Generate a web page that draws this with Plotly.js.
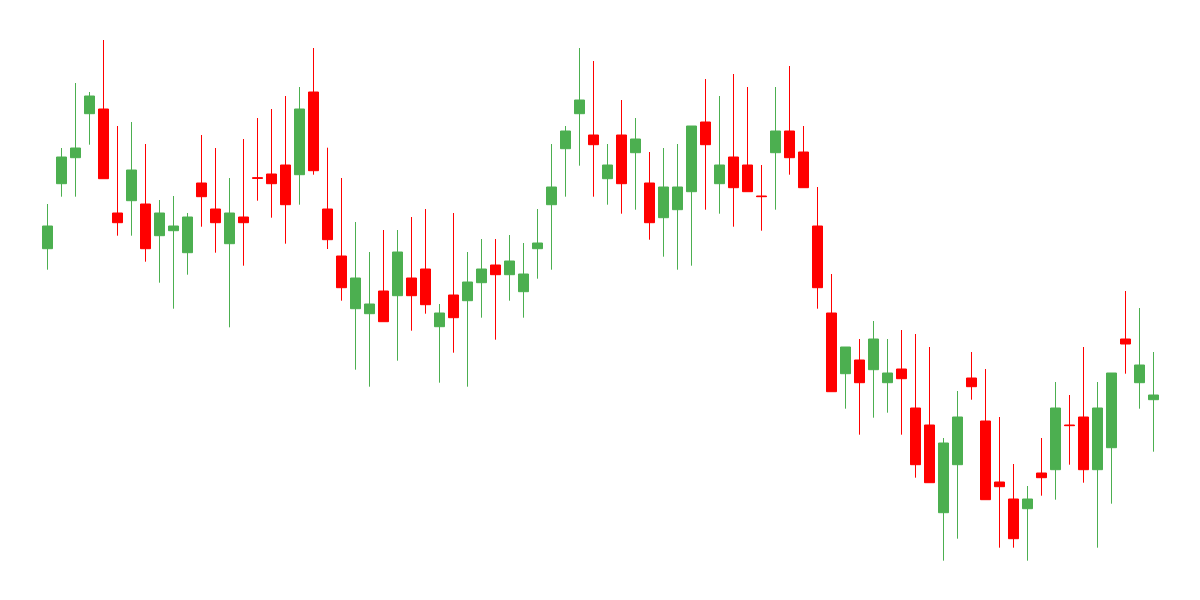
<!DOCTYPE html>
<html>
<head>
<meta charset="utf-8">
<script src="https://cdn.plot.ly/plotly-3.0.1.min.js"></script>
<style>html,body{margin:0;padding:0;background:#fff;}#chart{width:1200px;height:600px;}</style>
</head>
<body>
<div id="chart"></div>
<script>
const periods = Array.from({length: 80}, (_, i) => i);
const open  = [351.3,416.3,442.3,486.3,491,387,399.3,396,364.3,369.3,347.3,417,391,356.3,383,422.3,426,435,425.3,508,
               391,344,291.3,286.3,309,304.3,322,331,273.3,305,299.3,317.3,335,325.3,308.3,351.3,395.3,451.3,486.3,465,
               421.3,465,447.3,417,382.3,390.3,408.3,478,416.3,443,435,404,447.3,469,448,374,287,226.3,240,230.3,
               217.3,231,192,175,87.3,135.3,222,179,118,101,91.3,127,130.3,175,183,130.3,152.3,261,217.3,200.3];
const high  = [396,452,517,508,560,474,478,456,400,404,387,465,452,422,461,482,491,504,513,552,
               452.3,422,378,348,370,370,383,391,296,387,348,361,361,365,357,391,456,474,552,539,
               456,500,482,448,452,456,474,521,504,526,513,435,513,534,474,413,326,253,261,279,
               261,270,266,253,162,209,248,231,183,136,114,162,218,205,253,218,227,309,292,248];
const low   = [330.3,403.3,403.3,455.3,421.3,364.3,364.3,338.3,317.3,291.3,325.3,373.3,347.3,272.7,334.3,399.3,382.3,356.3,395.3,425.3,
               351,299.3,230.3,213.3,278.3,239.3,269.3,286.3,217.3,247.3,213.3,282.3,260.3,299.3,282.3,321.3,330.3,403.3,434.3,403.3,
               395.3,386.3,390.3,360.3,343.3,330.3,334.3,390.3,386.3,373.3,408.3,369.3,390.3,425.3,412.3,291.3,208.3,191.3,165.3,182.3,
               187.3,165.3,122.3,117.3,39.3,61.3,200.3,100.3,52.3,52.3,39.3,104.3,100.3,135.3,117.3,52.3,96.3,226.3,191.3,148.3];
const close = [374,443,452,504,421.3,377.3,430,351.3,387,374,383,403.3,377.3,387,377.3,421.7,416.3,395.3,491,429.3,
               360.3,312.3,322,296,278.3,348,304.3,295.3,287,282.3,318,331,325.3,339,326,357,413,469,500,455.3,
               435,416.3,461,377.3,413,413,474,455.3,435,412.3,408.3,403.4,469,442.3,412.3,312.3,208.3,253,217.3,261,
               227,221.3,135.3,117.3,157,183,213.3,100.3,113.3,61.3,101,122.3,192,174.4,130.3,192,227,256,235,205];

const UP = '#4CAF50', DOWN = '#FF0000';
const trace = {
  type: 'candlestick',
  x: periods, open: open, high: high, low: low, close: close,
  increasing: {line: {color: UP, width: 1}, fillcolor: UP},
  decreasing: {line: {color: DOWN, width: 1}, fillcolor: DOWN},
  whiskerwidth: 0,
  hoverinfo: 'skip'
};
const layout = {
  width: 1200, height: 600,
  margin: {l: 0, r: 0, t: 0, b: 0},
  paper_bgcolor: '#ffffff', plot_bgcolor: '#ffffff',
  showlegend: false,
  boxgap: 0.2857,
  boxgroupgap: 0,
  xaxis: {visible: false, range: [-47.5/14, -47.5/14 + 1200/14], rangeslider: {visible: false}, fixedrange: true},
  yaxis: {visible: false, range: [0, 600], fixedrange: true}
};
Plotly.newPlot('chart', [trace], layout, {displayModeBar: false, staticPlot: true});
</script>
</body>
</html>
